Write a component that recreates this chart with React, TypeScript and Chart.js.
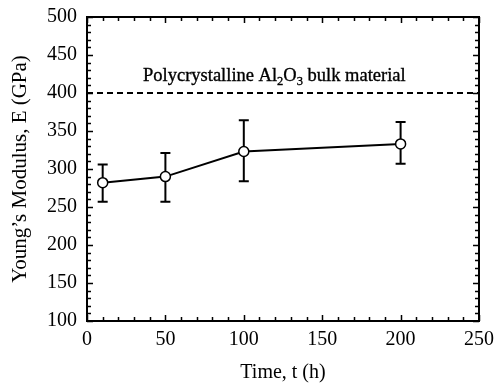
import React, { useEffect, useRef } from "react";
import { Chart, registerables } from "chart.js";

Chart.register(...registerables);

const timeH = [10, 50, 100, 200];
const modulus = [282, 290, 323, 333];
const errLow = [257, 257, 284, 307];
const errHigh = [306, 321, 364, 362];
const bulkValue = 400;
const xTicks = [0, 50, 100, 150, 200, 250];
const yTicks = [100, 150, 200, 250, 300, 350, 400, 450, 500];

const FONT = "'Liberation Serif', 'Times New Roman', serif";

const decorPlugin = {
  id: "decor",
  beforeDatasetsDraw(chart: any) {
    const ctx = chart.ctx;
    const x = chart.scales.x;
    const y = chart.scales.y;
    ctx.save();
    ctx.strokeStyle = "#000";
    ctx.lineWidth = 2;
    for (let i = 0; i < timeH.length; i++) {
      const px = x.getPixelForValue(timeH[i]);
      const pl = y.getPixelForValue(errLow[i]);
      const ph = y.getPixelForValue(errHigh[i]);
      ctx.beginPath();
      ctx.moveTo(px, pl);
      ctx.lineTo(px, ph);
      ctx.moveTo(px - 5, pl);
      ctx.lineTo(px + 5, pl);
      ctx.moveTo(px - 5, ph);
      ctx.lineTo(px + 5, ph);
      ctx.stroke();
    }
    ctx.restore();
  },
  afterDraw(chart: any) {
    const ctx = chart.ctx;
    const x = chart.scales.x;
    const y = chart.scales.y;
    const a = chart.chartArea;
    ctx.save();
    ctx.strokeStyle = "#000";
    ctx.lineWidth = 2;
    ctx.strokeRect(a.left, a.top, a.right - a.left, a.bottom - a.top);
    ctx.lineWidth = 1.5;
    ctx.beginPath();
    for (let v = x.min; v <= x.max; v += 10) {
      const px = Math.round(x.getPixelForValue(v)) + 0.5;
      const len = v % 50 === 0 ? 6 : 4;
      ctx.moveTo(px, a.bottom);
      ctx.lineTo(px, a.bottom - len);
      ctx.moveTo(px, a.top);
      ctx.lineTo(px, a.top + len);
    }
    for (let v = y.min; v <= y.max; v += 10) {
      const py = Math.round(y.getPixelForValue(v)) + 0.5;
      const len = v % 50 === 0 ? 6 : 4;
      ctx.moveTo(a.left, py);
      ctx.lineTo(a.left + len, py);
      ctx.moveTo(a.right, py);
      ctx.lineTo(a.right - len, py);
    }
    ctx.stroke();
    const parts: [string, boolean][] = [
      ["Polycrystalline Al", false],
      ["2", true],
      ["O", false],
      ["3", true],
      [" bulk material", false],
    ];
    const big = "18.5px " + FONT;
    const small = "12.5px " + FONT;
    let tx = 143;
    const base = y.getPixelForValue(bulkValue) - 12;
    ctx.fillStyle = "#000";
    ctx.strokeStyle = "#000";
    ctx.lineWidth = 0.35;
    ctx.textBaseline = "alphabetic";
    ctx.textAlign = "left";
    for (const [t, s] of parts) {
      ctx.font = s ? small : big;
      const ty = s ? base + 4 : base;
      ctx.fillText(t, tx, ty);
      ctx.strokeText(t, tx, ty);
      tx += ctx.measureText(t).width;
    }
    ctx.restore();
  },
};

export default function App() {
  const ref = useRef<HTMLCanvasElement>(null);
  useEffect(() => {
    document.body.style.margin = "0";
    const chart = new Chart(ref.current!, {
      type: "scatter",
      data: {
        datasets: [
          {
            type: "line",
            data: timeH.map((t, i) => ({ x: t, y: modulus[i] })),
            borderColor: "#000",
            borderWidth: 2,
            pointRadius: 5,
            pointBorderWidth: 1.5,
            pointBackgroundColor: "#fff",
            pointBorderColor: "#000",
            showLine: true,
            order: 0,
          },
          {
            type: "line",
            data: [
              { x: xTicks[0], y: bulkValue },
              { x: xTicks[xTicks.length - 1], y: bulkValue },
            ],
            borderColor: "#000",
            borderWidth: 2,
            borderDash: [6, 4],
            pointRadius: 0,
            showLine: true,
            order: 1,
          },
        ],
      },
      options: {
        animation: false,
        responsive: false,
        layout: { padding: { top: 17, right: 17, left: 0, bottom: 0 } },
        plugins: { legend: { display: false }, tooltip: { enabled: false } },
        scales: {
          x: {
            type: "linear",
            min: xTicks[0],
            max: xTicks[xTicks.length - 1],
            afterBuildTicks: (s: any) => {
              s.ticks = xTicks.map((v) => ({ value: v }));
            },
            afterFit: (s: any) => {
              s.height = 64;
              s.paddingLeft = 0;
              s.paddingRight = 0;
            },
            grid: { display: false, drawTicks: false },
            border: { display: false },
            ticks: {
              padding: 7,
              color: "#000",
              font: { family: FONT, size: 20 },
            },
            title: {
              display: true,
              text: "Time, t (h)",
              color: "#000",
              font: { family: FONT, size: 20 },
              padding: { top: 0, bottom: 0 },
            },
          },
          y: {
            type: "linear",
            min: yTicks[0],
            max: yTicks[yTicks.length - 1],
            afterBuildTicks: (s: any) => {
              s.ticks = yTicks.map((v) => ({ value: v }));
            },
            afterFit: (s: any) => {
              s.width = 87;
              s.paddingTop = 0;
              s.paddingBottom = 0;
            },
            grid: { display: false, drawTicks: false },
            border: { display: false },
            ticks: {
              padding: 10,
              color: "#000",
              font: { family: FONT, size: 20 },
            },
            title: {
              display: true,
              text: "Young\u2019s Modulus, E (GPa)",
              color: "#000",
              font: { family: FONT, size: 21 },
              padding: { top: 8, bottom: 0 },
            },
          },
        },
      },
      plugins: [decorPlugin],
    });
    return () => chart.destroy();
  }, []);
  return (
    <div style={{ position: "absolute", left: 0, top: 0, width: 496, height: 385, background: "#fff" }}>
      <canvas ref={ref} width={496} height={385} style={{ width: 496, height: 385 }} />
    </div>
  );
}
